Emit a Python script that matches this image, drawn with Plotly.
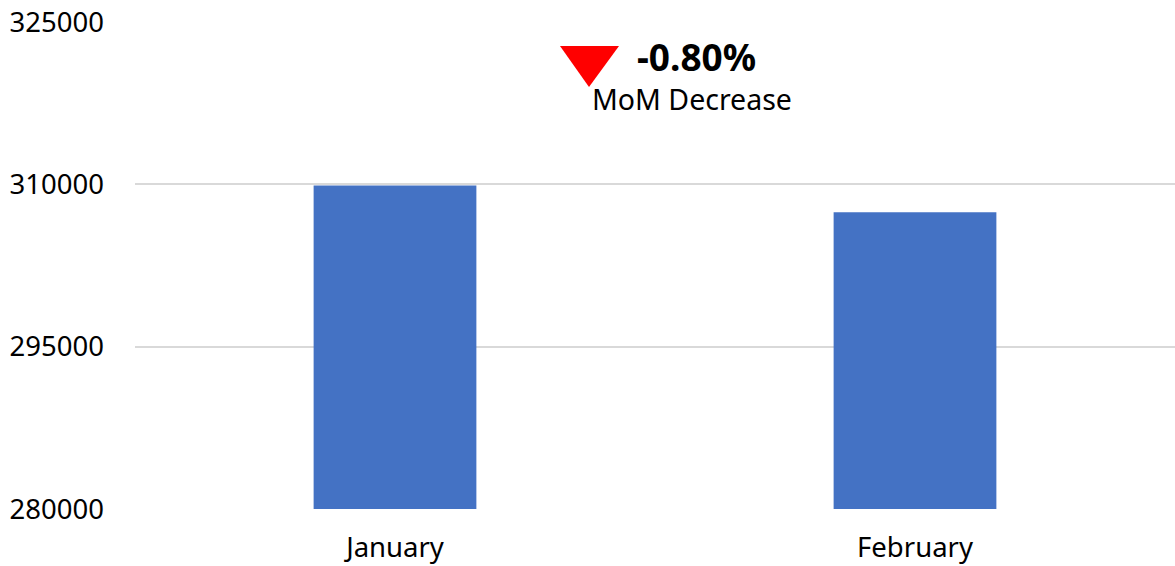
import plotly.graph_objects as go

months = ["January", "February"]
values = [309900, 307420]
y_ticks = [280000, 295000, 310000, 325000]
change_label = "MoM Decrease"

pct = (values[1] - values[0]) / values[0] * 100
pct_text = f"{pct:.2f}%"

FONT = "Noto Sans"
L, R, T, B = 135, 0, 22, 57
W, H = 1175, 566
pw, ph = W - L - R, H - T - B

def px(x):
    return (x - L) / pw

def py(y):
    return (H - B - y) / ph

fig = go.Figure()
fig.add_trace(go.Bar(x=months, y=values, marker=dict(color="#4472C4", line=dict(width=0))))

tri = f"M {px(560)},{py(46)} L {px(619)},{py(46)} L {px(589)},{py(87)} Z"

fig.update_layout(
    width=W, height=H,
    margin=dict(l=L, r=R, t=T, b=B, pad=0),
    plot_bgcolor="white", paper_bgcolor="white",
    bargap=0.687,
    showlegend=False,
    font=dict(family=FONT, size=28, color="black"),
    xaxis=dict(showgrid=False, showline=False, zeroline=False, ticks="", automargin=False,
               tickfont=dict(size=27.5), ticklabelstandoff=19),
    yaxis=dict(range=[280000, 325000], tickvals=y_ticks, ticktext=[str(v) for v in y_ticks],
               showgrid=True, gridcolor="#d9d9d9", gridwidth=1.6, zeroline=False, automargin=False,
               showline=False, ticks="", tickfont=dict(size=27.5), ticklabelstandoff=30),
    shapes=[dict(type="path", path=tri, xref="paper", yref="paper",
                 fillcolor="#ff0000", line=dict(width=0))],
    annotations=[
        dict(text=f"<b>{pct_text}</b>", x=px(696.5), y=py(56), xref="paper", yref="paper",
             showarrow=False, font=dict(size=37, family=FONT, color="black"),
             xanchor="center", yanchor="middle"),
        dict(text=change_label, x=px(691.5), y=py(99), xref="paper", yref="paper",
             showarrow=False, font=dict(size=28.5, family=FONT, color="black"),
             xanchor="center", yanchor="middle"),
    ],
)

fig.write_html("out.html", config={"displayModeBar": False},
               post_script="document.body.style.margin='0';document.body.style.overflow='hidden';")
